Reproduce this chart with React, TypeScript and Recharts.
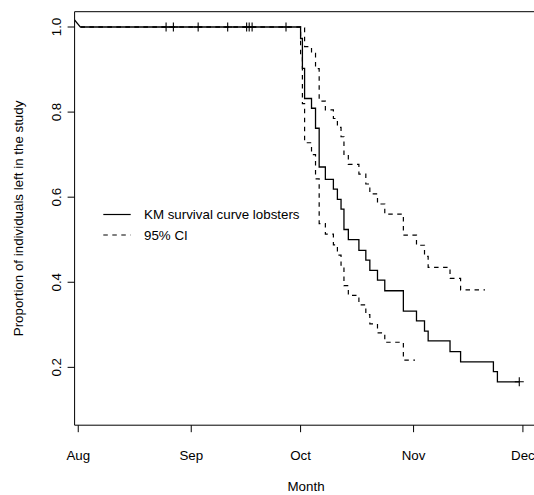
import React from 'react';
import { ComposedChart, Line, Scatter, XAxis, YAxis, ReferenceArea, Legend } from 'recharts';

// ---- data (days since 1 Aug) ----
const monthTicks = [0, 31, 61, 92, 122];
const monthLabels = ['Aug', 'Sep', 'Oct', 'Nov', 'Dec'];
const yTicks = [0.2, 0.4, 0.6, 0.8, 1.0];
const yTickLabels = ['0.2', '0.4', '0.6', '0.8', '1.0'];

const kmTimes = [0.6, 61, 61.5, 62.1, 64, 65.1, 66.1, 67.8, 70, 71.1, 72.1, 72.9, 74.1, 77, 78.9, 80, 82.1, 84.1, 89.2, 92.8, 95, 96, 102, 104.9, 113.9, 115, 121];
const kmSurvival = [1, 0.973, 0.903, 0.832, 0.809, 0.762, 0.671, 0.642, 0.619, 0.595, 0.572, 0.524, 0.5, 0.475, 0.452, 0.428, 0.405, 0.38, 0.332, 0.309, 0.285, 0.262, 0.237, 0.213, 0.19, 0.166, 0.166];

const upperTimes = [0.6, 61.5, 62.1, 64, 65.1, 66.1, 67.8, 70, 71.1, 72.1, 72.9, 74.1, 77, 78.9, 80, 82.1, 84.1, 89.2, 92.8, 95, 96, 102, 104.9, 111.6];
const upperValues = [1, 0.998, 0.954, 0.938, 0.902, 0.826, 0.805, 0.785, 0.764, 0.742, 0.699, 0.677, 0.654, 0.631, 0.608, 0.584, 0.56, 0.511, 0.487, 0.461, 0.435, 0.409, 0.382, 0.382];

const lowerTimes = [0.6, 61, 61.5, 62.1, 64, 65.1, 66.1, 67.8, 70, 71.1, 72.1, 72.9, 74.1, 77, 78.9, 80, 82.1, 84.1, 89.2, 92.4];
const lowerValues = [1, 0.929, 0.82, 0.728, 0.7, 0.643, 0.538, 0.513, 0.488, 0.464, 0.44, 0.392, 0.369, 0.347, 0.324, 0.302, 0.281, 0.259, 0.217, 0.217];

const censorTimes = [24.1, 26.1, 32.9, 41.0, 46.2, 46.9, 47.7, 57.0, 121];
const censorValues = [1, 1, 1, 1, 1, 1, 1, 1, 0.166];

const startTimes = [-1.0, 0.6];
const startValues = [1.0165, 1.0];

const seriesNames = ['KM survival curve lobsters', '95% CI'];

const zip = (ts: number[], vs: number[]) => ts.map((t, i) => ({ t, v: vs[i] }));
const kmData = zip(kmTimes, kmSurvival);
const upperData = zip(upperTimes, upperValues);
const lowerData = zip(lowerTimes, lowerValues);
const censorData = zip(censorTimes, censorValues);
const startData = zip(startTimes, startValues);

// ---- layout ----
const FONT = '"Liberation Sans", Arial, Helvetica, sans-serif';
const FS = 13.33;
const W = 560;
const H = 495;
const PLOT_LEFT = 74.6;
const PLOT_TOP = 11.7;
const PLOT_BOTTOM = 425.2;
const PLOT_RIGHT = 537.5;
const X_DOMAIN: [number, number] = [-1.0, 126];
const Y_DOMAIN: [number, number] = [0.064, 1.036];
const Y_AXIS_W = 60;
const X_AXIS_H = 30;
const DASH = '4.5 4.5';

const XTick = (props: any) => {
  const { x, payload } = props;
  const idx = monthTicks.indexOf(payload.value);
  return (
    <text x={x} y={460} textAnchor="middle" fontFamily={FONT} fontSize={FS} fill="#000">
      {monthLabels[idx]}
    </text>
  );
};

const YTick = (props: any) => {
  const { y, payload } = props;
  const idx = yTicks.indexOf(payload.value);
  return (
    <text
      transform={`translate(60.5, ${y}) rotate(-90)`}
      textAnchor="middle"
      fontFamily={FONT}
      fontSize={FS}
      fill="#000"
    >
      {yTickLabels[idx]}
    </text>
  );
};

const PlusShape = (props: any) => {
  const { cx, cy } = props;
  return (
    <g stroke="#000" strokeWidth={1.1}>
      <line x1={cx - 4.5} x2={cx + 4.5} y1={cy} y2={cy} />
      <line x1={cx} x2={cx} y1={cy - 4.5} y2={cy + 4.5} />
    </g>
  );
};

const LegendContent = (props: any) => {
  const items = (props.payload || [])
    .filter((e: any) => seriesNames.includes(e.value))
    .sort((a: any, b: any) => seriesNames.indexOf(a.value) - seriesNames.indexOf(b.value));
  return (
    <svg width={260} height={50}>
      {items.map((e: any, i: number) => (
        <g key={e.value}>
          <line
            x1={8.3}
            x2={35.7}
            y1={14.5 + i * 20.5}
            y2={14.5 + i * 20.5}
            stroke="#000"
            strokeWidth={1.2}
            strokeDasharray={e.payload && e.payload.strokeDasharray ? e.payload.strokeDasharray : undefined}
          />
          <text
            x={49}
            y={14.5 + i * 20.5 + 4.7}
            fontFamily={FONT}
            fontSize={FS}
            fill="#000"
          >
            {e.value}
          </text>
        </g>
      ))}
    </svg>
  );
};

export default function App() {
  return (
    <div
      style={{
        position: 'fixed',
        left: 0,
        top: 0,
        width: 534,
        height: 495,
        overflow: 'hidden',
        background: '#fff',
      }}
    >
      <ComposedChart
        width={W}
        height={H}
        margin={{
          top: PLOT_TOP,
          left: PLOT_LEFT - Y_AXIS_W,
          right: W - PLOT_RIGHT,
          bottom: H - PLOT_BOTTOM - X_AXIS_H,
        }}
      >
        <XAxis
          type="number"
          dataKey="t"
          domain={X_DOMAIN}
          allowDataOverflow
          ticks={monthTicks}
          interval={0}
          height={X_AXIS_H}
          tickSize={7}
          axisLine={false}
          tickLine={{ stroke: '#000', strokeWidth: 1 }}
          tick={<XTick />}
        />
        <YAxis
          type="number"
          dataKey="v"
          domain={Y_DOMAIN}
          allowDataOverflow
          ticks={yTicks}
          interval={0}
          width={Y_AXIS_W}
          tickSize={7}
          axisLine={false}
          tickLine={{ stroke: '#000', strokeWidth: 1 }}
          tick={<YTick />}
        />
        <ReferenceArea
          x1={X_DOMAIN[0]}
          x2={X_DOMAIN[1]}
          y1={Y_DOMAIN[0]}
          y2={Y_DOMAIN[1]}
          fill="none"
          fillOpacity={0}
          stroke="#000"
          strokeWidth={1}
        />
        <Line
          data={upperData}
          dataKey="v"
          name="95% CI"
          type="stepAfter"
          stroke="#000"
          strokeWidth={1.2}
          strokeDasharray={DASH}
          dot={false}
          activeDot={false}
          isAnimationActive={false}
        />
        <Line
          data={lowerData}
          dataKey="v"
          name="95% CI lower"
          legendType="none"
          type="stepAfter"
          stroke="#000"
          strokeWidth={1.2}
          strokeDasharray={DASH}
          dot={false}
          activeDot={false}
          isAnimationActive={false}
        />
        <Line
          data={kmData}
          dataKey="v"
          name="KM survival curve lobsters"
          type="stepAfter"
          stroke="#000"
          strokeWidth={1.3}
          dot={false}
          activeDot={false}
          isAnimationActive={false}
        />
        <Line
          data={startData}
          dataKey="v"
          name="start"
          legendType="none"
          type="linear"
          stroke="#000"
          strokeWidth={1.2}
          dot={false}
          activeDot={false}
          isAnimationActive={false}
        />
        <Scatter
          data={censorData}
          dataKey="v"
          name="censored"
          legendType="none"
          shape={<PlusShape />}
          isAnimationActive={false}
        />
        <Legend
          layout="vertical"
          align="center"
          verticalAlign="middle"
          content={<LegendContent />}
          wrapperStyle={{ position: 'absolute', left: 95, top: 200, width: 260, height: 50 }}
        />
        <text
          x={(PLOT_LEFT + PLOT_RIGHT) / 2}
          y={491}
          textAnchor="middle"
          fontFamily={FONT}
          fontSize={FS}
          fill="#000"
        >
          Month
        </text>
        <text
          transform={`translate(23, ${(PLOT_TOP + PLOT_BOTTOM) / 2}) rotate(-90)`}
          textAnchor="middle"
          fontFamily={FONT}
          fontSize={FS}
          fill="#000"
        >
          Proportion of individuals left in the study
        </text>
      </ComposedChart>
    </div>
  );
}
